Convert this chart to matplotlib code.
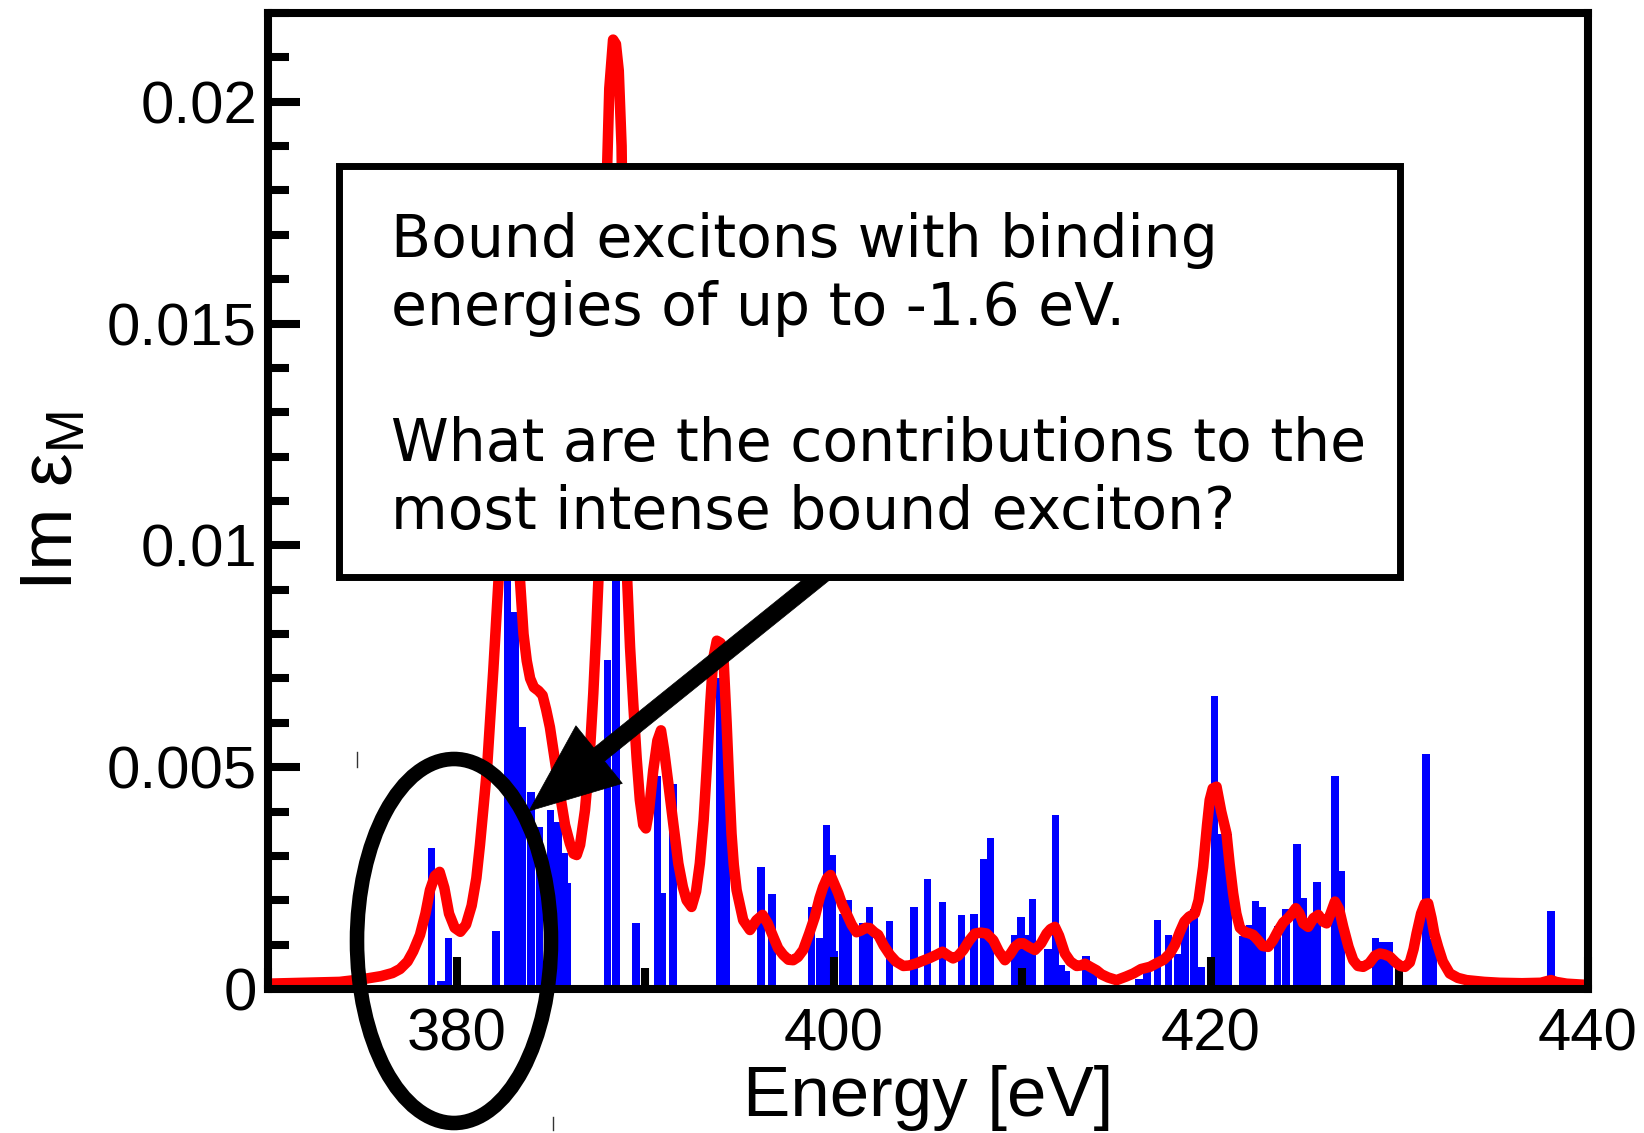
import matplotlib
matplotlib.use("Agg")
import matplotlib.pyplot as plt
from matplotlib.patches import Rectangle, Ellipse, Polygon
from matplotlib.lines import Line2D
import numpy as np

# ---------------- data ----------------
bar_energy = [378.68, 379.16, 379.56, 382.09, 382.70, 383.10, 383.50, 383.95, 384.40,
              384.99, 385.39, 385.69, 385.87, 388.00, 388.45, 389.51, 390.65, 390.90,
              391.47, 393.95, 394.30, 396.15, 396.73, 398.83, 399.25, 399.62, 399.90,
              400.05, 400.49, 400.79, 401.56, 401.90, 402.95, 404.26, 404.98, 405.76,
              406.77, 407.44, 407.97, 408.31, 409.60, 409.94, 410.25, 410.55, 411.35,
              411.76, 412.05, 412.35, 413.37, 413.75, 416.20, 416.62, 417.18, 417.76,
              418.26, 418.62, 419.12, 419.50, 420.19, 420.50, 420.90, 421.69, 422.05,
              422.37, 422.74, 423.54, 423.99, 424.56, 424.90, 425.25, 425.62, 426.58,
              426.90, 428.72, 429.10, 429.45, 431.40, 431.80, 438.04]
bar_height = [0.00317, 0.00018, 0.00116, 0.00131, 0.0110, 0.0085, 0.0059, 0.00444, 0.00366,
              0.00403, 0.00377, 0.00306, 0.00239, 0.00742, 0.0140, 0.00149, 0.0048, 0.00216,
              0.00461, 0.0070, 0.0060, 0.00274, 0.00214, 0.00185, 0.00114, 0.00369, 0.00303,
              0.00086, 0.0017, 0.0020, 0.00149, 0.00185, 0.00153, 0.00185, 0.00247, 0.00196,
              0.00166, 0.00168, 0.00294, 0.00341, 0.00122, 0.00163, 0.00122, 0.00202, 0.0009,
              0.00392, 0.00054, 0.0004, 0.00075, 0.00055, 0.00022, 0.00044, 0.00155, 0.00122,
              0.0008, 0.0016, 0.0018, 0.0005, 0.0066, 0.0035, 0.0035, 0.00119, 0.00144,
              0.00198, 0.00185, 0.00142, 0.0018, 0.00326, 0.00206, 0.0015, 0.00241, 0.0048,
              0.00266, 0.00116, 0.00106, 0.00106, 0.00529, 0.00112, 0.00176]

spec_energy = [370.0, 372.0, 373.8, 375.0, 376.0, 376.6, 377.0, 377.4, 377.7, 378.06, 378.35,
               378.59, 378.85, 379.1, 379.35, 379.6, 379.9, 380.2, 380.5, 380.8, 381.05, 381.24,
               381.45, 381.62, 381.8, 381.95, 382.1, 382.25, 382.45, 382.7, 382.95, 383.15,
               383.35, 383.55, 383.72, 383.9, 384.1, 384.35, 384.56, 384.75, 384.95, 385.2,
               385.48, 385.75, 386.01, 386.2, 386.37, 386.55, 386.81, 387.05, 387.25, 387.4,
               387.55, 387.75, 387.95, 388.1, 388.3, 388.45, 388.6, 388.75, 388.9, 389.02,
               389.2, 389.37, 389.55, 389.72, 389.9, 390.04, 390.2, 390.43, 390.65, 390.84,
               391.0, 391.23, 391.5, 391.76, 392.0, 392.2, 392.46, 392.7, 392.9, 393.1, 393.26,
               393.45, 393.61, 393.8, 394.0, 394.15, 394.32, 394.45, 394.58, 394.7, 394.85,
               395.2, 395.56, 395.9, 396.23, 396.5, 396.79, 397.05, 397.32, 397.6, 397.85,
               398.1, 398.38, 398.7, 399.0, 399.25, 399.44, 399.65, 399.83, 400.0, 400.24,
               400.45, 400.68, 400.95, 401.21, 401.45, 401.7, 401.92, 402.15, 402.36, 402.65,
               402.98, 403.3, 403.69, 404.0, 404.39, 404.75, 405.1, 405.45, 405.77, 406.05,
               406.33, 406.6, 406.87, 407.2, 407.49, 407.8, 408.1, 408.46, 408.75, 409.08,
               409.35, 409.61, 409.85, 410.05, 410.35, 410.67, 411.0, 411.29, 411.5, 411.73,
               411.95, 412.26, 412.55, 412.88, 413.1, 413.32, 413.6, 413.94, 414.2, 414.55,
               415.0, 415.5, 415.89, 416.3, 416.77, 417.12, 417.5, 417.83, 418.1, 418.35,
               418.6, 418.85, 419.15, 419.35, 419.59, 419.8, 419.94, 420.1, 420.3, 420.55,
               420.83, 421.0, 421.18, 421.35, 421.54, 421.8, 422.0, 422.24, 422.5, 422.75,
               423.04, 423.3, 423.55, 423.84, 424.1, 424.3, 424.5, 424.7, 424.9, 425.16,
               425.45, 425.7, 425.95, 426.14, 426.35, 426.58, 426.8, 427.02, 427.3, 427.55,
               427.8, 428.08, 428.4, 428.7, 428.96, 429.2, 429.49, 429.8, 430.05, 430.29,
               430.55, 430.75, 430.91, 431.15, 431.35, 431.52, 431.7, 431.85, 432.05, 432.3,
               432.67, 433.1, 433.56, 434.5, 435.32, 436.5, 437.5, 437.85, 438.05, 438.3,
               438.86, 440.0]
spec_value = [0.00012, 0.00014, 0.00016, 0.00022, 0.00029, 0.00036, 0.00045, 0.00062, 0.00085,
              0.00122, 0.0017, 0.00223, 0.00255, 0.00264, 0.00228, 0.0017, 0.00138, 0.00129,
              0.00145, 0.00188, 0.0025, 0.00325, 0.0042, 0.005, 0.0062, 0.0072, 0.0083, 0.0094,
              0.0112, 0.0125, 0.0125, 0.0112, 0.0093, 0.0080, 0.0074, 0.0070, 0.0068, 0.00672,
              0.00662, 0.0063, 0.0059, 0.0052, 0.0044, 0.0037, 0.00328, 0.00305, 0.00302,
              0.00325, 0.00403, 0.0052, 0.00666, 0.0080, 0.0095, 0.0130, 0.0180, 0.0203, 0.0214,
              0.0213, 0.0207, 0.0190, 0.0140, 0.0095, 0.0077, 0.00643, 0.0052, 0.00426, 0.0037,
              0.00362, 0.0040, 0.00493, 0.0056, 0.00583, 0.0054, 0.00463, 0.0037, 0.00283,
              0.0023, 0.0020, 0.00185, 0.0022, 0.00283, 0.0038, 0.00493, 0.0064, 0.00745,
              0.00785, 0.0078, 0.0075, 0.0060, 0.0047, 0.0035, 0.0028, 0.00223, 0.00155,
              0.00133, 0.00155, 0.00167, 0.00148, 0.00118, 0.00092, 0.00077, 0.00066, 0.00065,
              0.00072, 0.00088, 0.00125, 0.00163, 0.00205, 0.0023, 0.0025, 0.00257, 0.0024,
              0.00216, 0.0019, 0.0017, 0.00145, 0.00128, 0.00132, 0.00138, 0.00137, 0.00128,
              0.00122, 0.00098, 0.00077, 0.00062, 0.00052, 0.00053, 0.00058, 0.00064, 0.0007,
              0.00077, 0.00084, 0.00076, 0.00069, 0.00075, 0.00088, 0.0011, 0.00125, 0.00127,
              0.00125, 0.0011, 0.00085, 0.00065, 0.00078, 0.00095, 0.00103, 0.00103, 0.00095,
              0.00088, 0.00103, 0.00125, 0.00135, 0.0014, 0.0012, 0.0008, 0.00062, 0.00052,
              0.00053, 0.00057, 0.0005, 0.00042, 0.00033, 0.00026, 0.0002, 0.00028, 0.00035,
              0.00045, 0.0005, 0.00058, 0.00066, 0.0008, 0.001, 0.00128, 0.00152, 0.00163,
              0.0017, 0.0020, 0.00275, 0.0037, 0.00426, 0.00452, 0.00456, 0.0040, 0.0035,
              0.0028, 0.00216, 0.0017, 0.00138, 0.00128, 0.00126, 0.00122, 0.0011, 0.00097,
              0.00095, 0.0011, 0.0013, 0.0015, 0.0016, 0.0017, 0.00182, 0.0017, 0.00148,
              0.0014, 0.0016, 0.00167, 0.00152, 0.00148, 0.0017, 0.00197, 0.0018, 0.0014,
              0.00095, 0.00065, 0.00052, 0.0005, 0.00058, 0.00075, 0.0008, 0.00078, 0.00073,
              0.0006, 0.00052, 0.0005, 0.0006, 0.0009, 0.00125, 0.0017, 0.00192, 0.00193,
              0.0016, 0.00125, 0.00095, 0.00062, 0.00035, 0.00025, 0.0002, 0.00016, 0.00014,
              0.00013, 0.00014, 0.00018, 0.0002, 0.00016, 0.00012, 0.00009]

x_major = [380, 400, 420, 440]
x_minor = [370, 390, 410, 430]
y_major = [0, 0.005, 0.01, 0.015, 0.02]
y_major_labels = ["0", "0.005", "0.01", "0.015", "0.02"]
y_minor = [0.001 * i for i in range(23)]
x_label = "Energy [eV]"
y_label = "Im ε$_{\\mathregular{M}}$"
box_lines = ["Bound excitons with binding",
             "energies of up to -1.6 eV.",
             "What are the contributions to the",
             "most intense bound exciton?"]

# ---------------- figure ----------------
W, H = 1644, 1133
fig = plt.figure(figsize=(W / 100, H / 100), dpi=100)
ax = fig.add_axes([268 / W, 1 - 989 / H, (1588 - 268) / W, (989 - 13) / H])

ax.bar(bar_energy, bar_height, width=0.4, color="#0000ff", edgecolor="none", zorder=1)
ax.plot(spec_energy, spec_value, color="#ff0000", lw=7.6, zorder=2, solid_joinstyle="round")

ax.set_xlim(370, 440)
ax.set_ylim(0, 0.022)
ax.set_xticks(x_major)
ax.set_xticks(x_minor, minor=True)
ax.set_yticks(y_major)
ax.set_yticklabels(y_major_labels)
ax.set_yticks(y_minor, minor=True)

tickfont = "Liberation Sans"
ax.tick_params(which="major", direction="in", length=23, width=5.8, labelsize=43,
               top=False, right=False)
ax.tick_params(which="minor", direction="in", length=15, width=5.8, top=False, right=False)
ax.tick_params(axis="x", which="major", pad=13)
ax.tick_params(axis="y", which="major", pad=8)
for lab in ax.get_xticklabels() + ax.get_yticklabels():
    lab.set_fontfamily(tickfont)

for sp in ax.spines.values():
    sp.set_linewidth(5.8)
    sp.set_color("black")

ax.set_xlabel(x_label, fontsize=51, fontfamily=tickfont, labelpad=2)
ax.set_ylabel(y_label, fontsize=54, fontfamily=tickfont, labelpad=14)


def fx(px):
    return px / W


def fy(py):
    return 1 - py / H


# arrow (polygon computed in pixel space, converted to figure fraction)
tail = np.array([826.0, 572.0])
tip = np.array([529.0, 811.0])
d = tip - tail
L = np.hypot(*d)
u = d / L
n = np.array([-u[1], u[0]])
shaft_hw, head_len, head_hw = 8.5, 90.0, 37.0
base = tip - u * head_len
pts_px = [tail + n * shaft_hw, base + n * shaft_hw, base + n * head_hw, tip,
          base - n * head_hw, base - n * shaft_hw, tail - n * shaft_hw]
pts = [(fx(p[0]), fy(p[1])) for p in pts_px]
fig.add_artist(Polygon(pts, closed=True, facecolor="black", edgecolor="black", lw=0.5,
                       transform=fig.transFigure, zorder=3))

# ellipse
fig.add_artist(Ellipse((fx(454), fy(941)), 194 / W, 364 / H, fill=False, edgecolor="black",
                       lw=10.5, transform=fig.transFigure, zorder=3, clip_on=False))

# tiny marks
fig.add_artist(Line2D([fx(357), fx(357)], [fy(752), fy(767)], color="#333333", lw=1.0,
                      transform=fig.transFigure, zorder=3))
fig.add_artist(Line2D([fx(553), fx(553)], [fy(1117), fy(1130)], color="#333333", lw=1.0,
                      transform=fig.transFigure, zorder=3))

# text box
bx0, bx1, by0, by1 = 339, 1400, 166, 577
fig.add_artist(Rectangle((fx(bx0), fy(by1)), (bx1 - bx0) / W, (by1 - by0) / H,
                         facecolor="white", edgecolor="black", lw=5.0,
                         transform=fig.transFigure, zorder=4))
baselines = [257, 325, 461, 529]
for txt, b in zip(box_lines, baselines):
    fig.text(fx(391), fy(b), txt, fontsize=42, fontfamily="DejaVu Sans", ha="left",
             va="baseline", zorder=5)

fig.savefig("out.png", dpi=100)
